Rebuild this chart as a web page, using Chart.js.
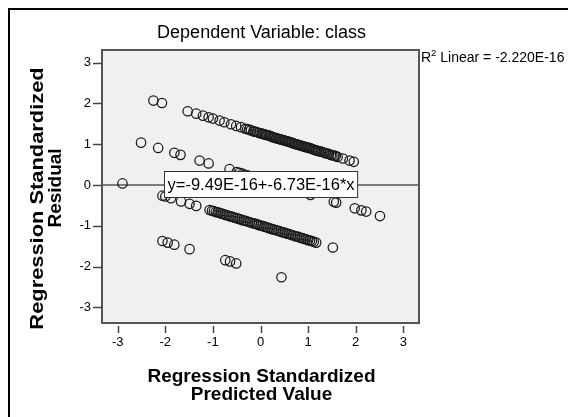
<!DOCTYPE html>
<html><head><meta charset="utf-8">
<script src="https://cdn.jsdelivr.net/npm/chart.js@4/dist/chart.umd.min.js"></script>
<style>html,body{margin:0;padding:0;background:#fff;}canvas{display:block;}</style>
</head><body>
<canvas id="c" width="568" height="417"></canvas>
<script>
const titleText = 'Dependent Variable: class';
const xAxisTitle = ['Regression Standardized', 'Predicted Value'];
const yAxisTitle = ['Regression Standardized', 'Residual'];
const r2Base = 'R';
const r2Sup = '2';
const r2Rest = ' Linear = -2.220E-16';
const fitText = 'y=-9.49E-16+-6.73E-16*x';
const xTickValues = [-3, -2, -1, 0, 1, 2, 3];
const yTickValues = [-3, -2, -1, 0, 1, 2, 3];

// band 1 (top)
const predA = [-2.25,-2.07,-1.53,-1.35,-1.21,-1.09,-1.00,-0.86,-0.76,-0.62,-0.51,-0.41,-0.32,-0.24,-0.15,-0.08,0.00,0.06,0.12,0.18,0.24,0.30,0.36,0.42,0.48,0.54,0.60,0.66,0.72,0.78,0.84,0.90,0.96,1.02,1.08,1.14,1.20,1.27,1.34,1.41,1.48,1.55,1.62,1.73,1.87,1.96];
const residA = [2.07,2.01,1.81,1.75,1.70,1.66,1.63,1.58,1.54,1.49,1.45,1.42,1.38,1.36,1.32,1.30,1.27,1.25,1.23,1.21,1.18,1.16,1.14,1.12,1.10,1.08,1.06,1.04,1.01,0.99,0.97,0.95,0.93,0.91,0.89,0.86,0.84,0.82,0.79,0.77,0.74,0.72,0.69,0.65,0.60,0.57];
const predA2 = [-0.28,-0.20,-0.12,-0.04,0.03,0.09,0.15,0.21,0.27,0.33,0.39,0.45,0.51,0.57,0.63,0.69,0.75,0.81,0.87,0.93,0.99,1.05,1.11,1.17,1.23,1.30,1.37,1.44,1.51,1.58];
const residA2 = [1.37,1.34,1.31,1.28,1.26,1.24,1.22,1.20,1.17,1.15,1.13,1.11,1.09,1.07,1.05,1.02,1.00,0.98,0.96,0.94,0.92,0.90,0.87,0.85,0.83,0.81,0.78,0.76,0.73,0.71];
// band 2
const predB = [-2.51,-2.15,-1.81,-1.68,-1.28,-1.09,-0.65,-0.50,-0.44,-0.38,-0.32,-0.26,-0.18,-0.10,0.00,0.15,0.35,0.60,0.85,1.05,1.54,1.59,1.98,2.12,2.22,2.51];
const residB = [1.04,0.91,0.79,0.74,0.60,0.53,0.39,0.32,0.30,0.28,0.25,0.23,0.20,0.18,0.14,0.09,0.01,-0.07,-0.16,-0.24,-0.41,-0.43,-0.57,-0.62,-0.65,-0.76];
// band 3
const predC = [-2.90,-2.06,-2.00,-1.88,-1.67,-1.49,-1.35,-1.07,-0.98,-0.90,-0.82,-0.74,-0.66,-0.58,-0.50,-0.42,-0.34,-0.26,-0.18,-0.10,-0.04,0.04,0.12,0.20,0.28,0.36,0.44,0.52,0.60,0.68,0.76,0.84,0.92,1.00,1.08,1.17,1.52];
const residC = [0.04,-0.26,-0.28,-0.32,-0.40,-0.46,-0.51,-0.61,-0.64,-0.67,-0.70,-0.73,-0.76,-0.78,-0.81,-0.84,-0.87,-0.90,-0.93,-0.95,-0.98,-1.00,-1.03,-1.06,-1.09,-1.12,-1.15,-1.17,-1.20,-1.23,-1.26,-1.29,-1.32,-1.35,-1.37,-1.41,-1.53];
const predC2 = [-1.02,-0.94,-0.86,-0.78,-0.70,-0.62,-0.54,-0.46,-0.38,-0.30,-0.22,-0.14,-0.07,0.00,0.08,0.16,0.24,0.32,0.40,0.48,0.56,0.64,0.72,0.80,0.88,0.96,1.04,1.12];
const residC2 = [-0.63,-0.66,-0.68,-0.71,-0.74,-0.77,-0.80,-0.83,-0.86,-0.88,-0.91,-0.94,-0.96,-0.99,-1.02,-1.05,-1.08,-1.10,-1.13,-1.16,-1.19,-1.22,-1.25,-1.27,-1.30,-1.33,-1.36,-1.39];
// band 4 (bottom)
const predD = [-2.06,-1.95,-1.81,-1.49,-0.74,-0.64,-0.51,0.44];
const residD = [-1.37,-1.41,-1.46,-1.57,-1.84,-1.87,-1.92,-2.26];

const fitX = [-3.33, 3.33];
const fitY = [0, 0];

const FONT = "'Liberation Sans', Arial, sans-serif";
const toPts = (xs, ys) => xs.map((x, i) => ({x: x, y: ys[i]}));
const allPoints = [].concat(
  toPts(predA, residA), toPts(predA2, residA2),
  toPts(predB, residB),
  toPts(predC, residC), toPts(predC2, residC2),
  toPts(predD, residD));

const deco = {
  id: 'deco',
  beforeDraw(chart) {
    const c = chart.ctx, a = chart.chartArea;
    c.save();
    c.fillStyle = '#fff';
    c.fillRect(0, 0, chart.width, chart.height);
    c.strokeStyle = '#000';
    c.lineWidth = 2;
    c.strokeRect(9, 9, 800, 800);
    c.fillStyle = '#f0f0f0';
    c.fillRect(a.left, a.top, a.right - a.left, a.bottom - a.top);
    c.restore();
  },
  afterDatasetsDraw(chart) {
    const c = chart.ctx, a = chart.chartArea;
    const xs = chart.scales.x, ys = chart.scales.y;
    c.save();
    c.strokeStyle = '#555';
    c.lineWidth = 2;
    c.strokeRect(a.left, a.top, a.right - a.left, a.bottom - a.top);
    c.strokeStyle = '#444';
    c.lineWidth = 1.5;
    xTickValues.forEach(v => {
      const px = Math.round(xs.getPixelForValue(v)) + 0.5;
      c.beginPath(); c.moveTo(px, a.bottom + 3); c.lineTo(px, a.bottom + 10); c.stroke();
    });
    yTickValues.forEach(v => {
      const py = Math.round(ys.getPixelForValue(v)) + 0.5;
      c.beginPath(); c.moveTo(a.left - 9, py); c.lineTo(a.left, py); c.stroke();
    });
    c.font = '16.5px ' + FONT;
    const tw = c.measureText(fitText).width;
    const cx = xs.getPixelForValue(0), cy = ys.getPixelForValue(0);
    const bw = tw + 6, bh = 26;
    const bx = Math.round(cx - bw / 2) + 0.5, by = Math.round(cy - 14) + 0.5;
    c.fillStyle = '#fff';
    c.fillRect(bx, by, bw, bh);
    c.strokeStyle = '#333';
    c.lineWidth = 1;
    c.strokeRect(bx, by, bw, bh);
    c.fillStyle = '#000';
    c.textBaseline = 'middle';
    c.textAlign = 'left';
    c.fillText(fitText, bx + 3, by + bh / 2 + 1);
    c.restore();
  },
  afterDraw(chart) {
    const c = chart.ctx, a = chart.chartArea;
    const midX = (a.left + a.right) / 2;
    c.save();
    c.fillStyle = '#000';
    c.textBaseline = 'alphabetic';
    c.textAlign = 'center';
    c.font = '18px ' + FONT;
    c.fillText(titleText, midX + 1, 38);
    c.font = 'bold 19px ' + FONT;
    c.fillText(xAxisTitle[0], midX + 1, 382);
    c.fillText(xAxisTitle[1], midX + 1, 399.5);
    c.save();
    c.translate(42.5, 198.5);
    c.rotate(-Math.PI / 2);
    c.scale(1.15, 1);
    c.fillText(yAxisTitle[0], 0, 0);
    c.restore();
    c.save();
    c.translate(60.5, 188);
    c.rotate(-Math.PI / 2);
    c.fillText(yAxisTitle[1], 0, 0);
    c.restore();
    c.textAlign = 'left';
    c.font = '14px ' + FONT;
    let x0 = a.right + 2;
    c.fillText(r2Base, x0, 62);
    x0 += c.measureText(r2Base).width;
    c.font = '9.5px ' + FONT;
    c.fillText(r2Sup, x0, 56);
    x0 += c.measureText(r2Sup).width;
    c.font = '14px ' + FONT;
    c.fillText(r2Rest, x0, 62);
    c.restore();
  }
};

new Chart(document.getElementById('c'), {
  type: 'scatter',
  data: {
    datasets: [
      {type: 'line', data: toPts(fitX, fitY), borderColor: '#7c7c7c', borderWidth: 2, pointRadius: 0, fill: false, order: 2},
      {data: allPoints, pointStyle: 'circle', pointRadius: 4.7, borderWidth: 1.25, borderColor: '#1a1a1a', backgroundColor: 'rgba(0,0,0,0)', order: 1}
    ]
  },
  options: {
    responsive: false,
    animation: false,
    devicePixelRatio: 1,
    layout: {padding: {left: 0, top: 50, right: 149, bottom: 0}},
    plugins: {legend: {display: false}, tooltip: {enabled: false}, title: {display: false}},
    scales: {
      x: {
        type: 'linear', min: -3.33, max: 3.33,
        afterBuildTicks: s => { s.ticks = xTickValues.map(v => ({value: v})); },
        afterFit: s => { s.height = 94; },
        grid: {display: false, drawTicks: false},
        border: {display: false},
        ticks: {padding: 12, color: '#000', font: {family: FONT, size: 13}, maxRotation: 0, autoSkip: false}
      },
      y: {
        type: 'linear', min: -3.38, max: 3.31,
        afterBuildTicks: s => { s.ticks = yTickValues.map(v => ({value: v})); },
        afterFit: s => { s.width = 102; },
        grid: {display: false, drawTicks: false},
        border: {display: false},
        ticks: {padding: 11, color: '#000', font: {family: FONT, size: 13}, autoSkip: false}
      }
    }
  },
  plugins: [deco]
});
</script>
</body></html>
